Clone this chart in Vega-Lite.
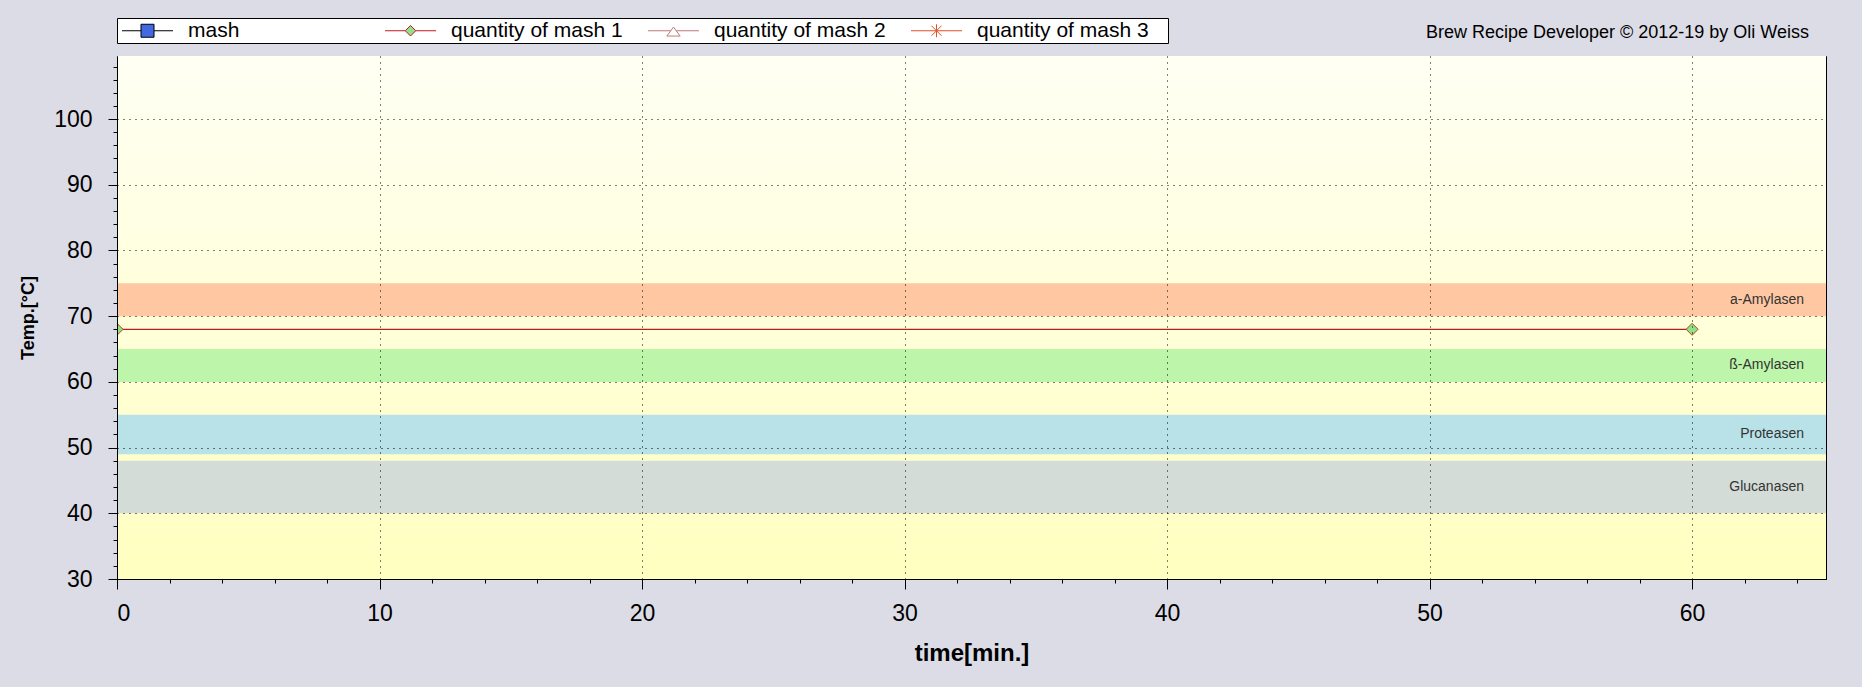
{
  "$schema": "https://vega.github.io/schema/vega-lite/v6.json",
  "autosize": {"type": "none"},
  "padding": {"left": 117, "top": 56, "right": 36, "bottom": 108},
  "width": 1709,
  "height": 523,
  "background": "#DCDCE6",
  "view": {"stroke": "black", "strokeWidth": 1},
  "title": {
    "text": "Brew Recipe Developer © 2012-19 by Oli Weiss",
    "anchor": "end", "frame": "group", "orient": "top", "offset": -33, "dx": -17,
    "baseline": "middle", "font": "Liberation Sans", "fontSize": 18, "fontWeight": "normal", "color": "black"
  },
  "datasets": {
    "bands": [
      {"name": "a-Amylasen", "lo": 70, "hi": 75},
      {"name": "ß-Amylasen", "lo": 60, "hi": 65},
      {"name": "Proteasen", "lo": 49, "hi": 55},
      {"name": "Glucanasen", "lo": 40, "hi": 48}
    ],
    "mash": [
      {"series": "quantity of mash 1", "t": 0, "temp": 68},
      {"series": "quantity of mash 1", "t": 60, "temp": 68}
    ]
  },
  "resolve": {"axis": {"x": "independent", "y": "independent"}},
  "layer": [
    {
      "data": {"values": [{"bg": 1}]},
      "mark": {"type": "rect",
        "color": {"gradient": "linear", "x1": 0, "y1": 0, "x2": 0, "y2": 1,
          "stops": [{"offset": 0, "color": "#FFFFF4"}, {"offset": 1, "color": "#FFFFC0"}]}},
      "encoding": {}
    },
    {
      "data": {"name": "bands"},
      "mark": {"type": "rect"},
      "encoding": {
        "y": {"field": "lo", "type": "quantitative",
          "scale": {"domain": [30, 109.6], "nice": false, "zero": false},
          "axis": {"orient": "left", "values": [30, 40, 50, 60, 70, 80, 90, 100],
            "title": "Temp.[°C]", "titleFont": "Liberation Sans", "titleFontSize": 18, "titleFontWeight": "bold",
            "titleColor": "black", "titlePadding": 16,
            "labelFont": "Liberation Sans", "labelFontSize": 23, "labelColor": "black", "labelPadding": 16,
            "tickSize": 9, "tickColor": "black", "domainColor": "black",
            "grid": true, "gridDash": [1, 5], "gridColor": "black", "gridOpacity": 1, "zindex": 1}},
        "y2": {"field": "hi"},
        "color": {"field": "name", "type": "nominal", "legend": null,
          "scale": {"domain": ["a-Amylasen", "ß-Amylasen", "Proteasen", "Glucanasen"],
            "range": ["#FFC8A2", "#BDF5AA", "#B8E2E8", "#D3DCD7"]}}
      }
    },
    {
      "data": {"name": "bands"},
      "transform": [
        {"fold": ["lo", "hi"], "as": ["k", "v"]},
        {"aggregate": [{"op": "mean", "field": "v", "as": "mid"}], "groupby": ["name"]}
      ],
      "mark": {"type": "text", "align": "right", "baseline": "middle", "dx": -22,
        "font": "Liberation Sans", "fontSize": 14, "color": "#333333"},
      "encoding": {
        "x": {"datum": 65.1, "type": "quantitative",
          "scale": {"domain": [0, 65.1], "nice": false, "zero": false},
          "axis": {"orient": "bottom", "values": [2,4,6,8,12,14,16,18,22,24,26,28,32,34,36,38,42,44,46,48,52,54,56,58,62,64],
            "labels": false, "domain": false, "grid": false, "title": null,
            "offset": -4, "tickSize": 8, "tickColor": "black"}},
        "y": {"field": "mid", "type": "quantitative",
          "scale": {"domain": [30, 109.6], "nice": false, "zero": false},
          "axis": {"orient": "left", "values": [32,34,36,38,42,44,46,48,52,54,56,58,62,64,66,68,72,74,76,78,82,84,86,88,92,94,96,98,102,104,106,108],
            "labels": false, "domain": false, "grid": false, "title": null,
            "offset": -4, "tickSize": 8, "tickColor": "black"}},
        "text": {"field": "name"}
      }
    },
    {
      "data": {"name": "mash"},
      "mark": {"type": "line", "strokeWidth": 1.2, "color": "#B22020"},
      "encoding": {
        "x": {"field": "t", "type": "quantitative",
          "scale": {"domain": [0, 65.1], "nice": false, "zero": false},
          "axis": {"orient": "bottom", "values": [0, 10, 20, 30, 40, 50, 60],
            "title": "time[min.]", "titleFont": "Liberation Sans", "titleFontSize": 24, "titleFontWeight": "bold",
            "titleColor": "black", "titlePadding": 16,
            "labelFont": "Liberation Sans", "labelFontSize": 23, "labelColor": "black", "labelPadding": 13,
            "tickSize": 10, "tickColor": "black", "domainColor": "black",
            "grid": true, "gridDash": [1, 5], "gridColor": "black", "gridOpacity": 1, "zindex": 1}},
        "y": {"field": "temp", "type": "quantitative",
          "scale": {"domain": [30, 109.6], "nice": false, "zero": false},
          "axis": {"orient": "right", "values": [32,34,36,38,42,44,46,48,52,54,56,58,62,64,66,68,72,74,76,78,82,84,86,88,92,94,96,98,102,104,106,108],
            "labels": false, "domain": false, "grid": false, "title": null,
            "offset": -5, "tickSize": 5, "tickColor": "black"}}
      }
    },
    {
      "data": {"name": "mash"},
      "mark": {"type": "point", "shape": "diamond", "size": 144, "filled": true, "fill": "#90E28A",
        "stroke": "#B04A10", "strokeWidth": 1, "opacity": 1, "clip": true},
      "encoding": {
        "x": {"field": "t", "type": "quantitative",
          "scale": {"domain": [0, 65.1], "nice": false, "zero": false},
          "axis": {"orient": "top", "values": [2,4,6,8,12,14,16,18,22,24,26,28,32,34,36,38,42,44,46,48,52,54,56,58,62,64],
            "labels": false, "domain": false, "grid": false, "title": null,
            "offset": -5, "tickSize": 5, "tickColor": "black"}},
        "y": {"field": "temp", "type": "quantitative",
          "scale": {"domain": [30, 109.6], "nice": false, "zero": false},
          "axis": {"orient": "right", "values": [30, 40, 50, 60, 70, 80, 90, 100],
            "labels": false, "domain": false, "grid": false, "title": null,
            "offset": -9, "tickSize": 9, "tickColor": "black"}}
      }
    },
    {
      "data": {"name": "mash"},
      "transform": [{"filter": "datum.t < 0"}],
      "mark": {"type": "point", "filled": true, "opacity": 1, "strokeWidth": 1},
      "encoding": {
        "shape": {"field": "series", "type": "nominal",
          "scale": {"domain": ["mash", "quantity of mash 1", "quantity of mash 2", "quantity of mash 3"],
            "range": [
              "M-5.1,0H-1.3M1.3,0H5.1M-1.3,-1.3H1.3V1.3H-1.3Z",
              "M-5.1,0H-1.05M1.05,0H5.1M-1.05,0L0,-1.05L1.05,0L0,1.05Z",
              "M-5.1,0H-0.55M0.55,0H5.1M0,-0.74L1.33,1.06H-1.33Z",
              "M-5.1,0H5.1M-1,-1L1,1M-1,1L1,-1M0,-1.3V1.3"]},
          "legend": {
            "orient": "top", "direction": "horizontal", "columns": 4, "gridAlign": "all",
            "title": " ", "titleOrient": "right", "titlePadding": 17, "titleFontSize": 2,
            "fillColor": "white", "strokeColor": "black", "padding": 2, "offset": 12,
            "symbolSize": 100, "symbolOffset": 18, "labelOffset": 30, "columnPadding": 22,
            "symbolOpacity": 1, "symbolStrokeWidth": 1,
            "labelFont": "Liberation Sans", "labelFontSize": 21, "labelColor": "black", "labelLimit": 400
          }},
        "fill": {"field": "series", "type": "nominal",
          "scale": {"domain": ["mash", "quantity of mash 1", "quantity of mash 2", "quantity of mash 3"],
            "range": ["#4169E1", "#8FE08F", "#FFFFFF", "#E0502A"]}},
        "stroke": {"field": "series", "type": "nominal",
          "scale": {"domain": ["mash", "quantity of mash 1", "quantity of mash 2", "quantity of mash 3"],
            "range": ["#000000", "#C01818", "#C07878", "#E0502A"]}}
      }
    }
  ]
}
